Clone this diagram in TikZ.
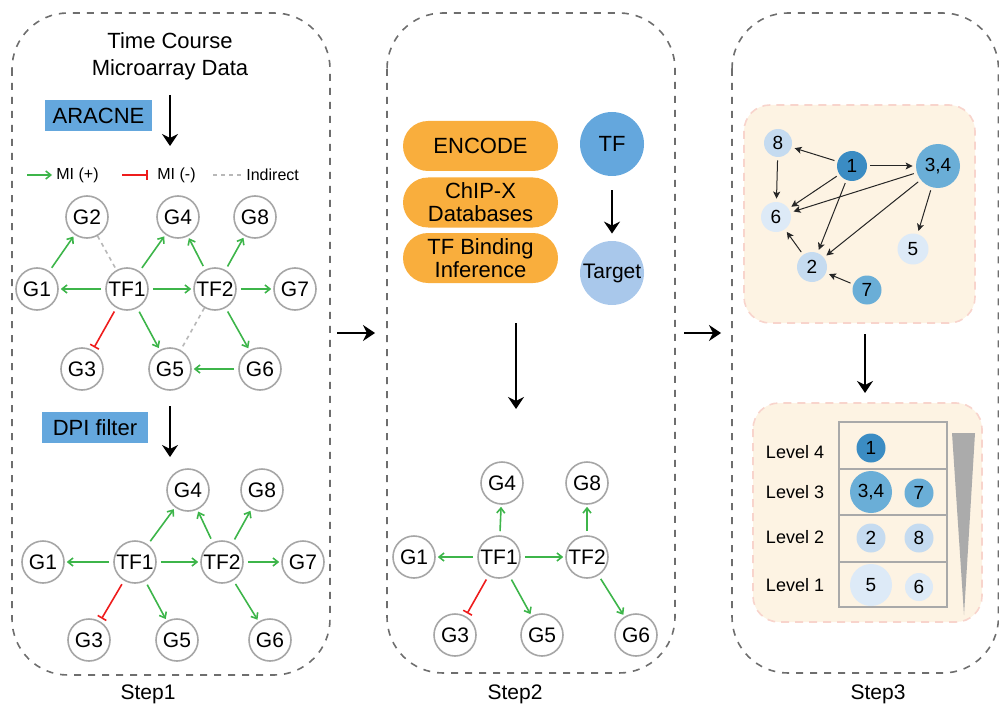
\documentclass[tikz,border=0pt]{standalone}
\usepackage{fontspec}
\setmainfont{Liberation Sans}
\usetikzlibrary{arrows.meta}

\definecolor{panelgray}{HTML}{6E6E6E}
\definecolor{nodegray}{HTML}{A6A6A6}
\definecolor{posgreen}{HTML}{3DB54A}
\definecolor{negred}{HTML}{EE1C1C}
\definecolor{boxblue}{HTML}{64A7DD}
\definecolor{pillorange}{HTML}{F9AE3D}
\definecolor{targetblue}{HTML}{A9C8EB}
\definecolor{peach}{HTML}{FDF3E3}
\definecolor{peachline}{HTML}{F8D4CC}
\definecolor{lvA}{HTML}{3B8CC3}
\definecolor{lvB}{HTML}{6AAED7}
\definecolor{lvC}{HTML}{C5DBF0}
\definecolor{lvD}{HTML}{DDEAF7}
\definecolor{tablegray}{HTML}{A9A9A9}
\definecolor{wedge}{HTML}{ABABAB}

\tikzset{
  panel/.style={draw=panelgray, line width=0.8pt, dash pattern=on 3.5pt off 3.5pt, rounded corners=28pt},
  gene/.style={circle, draw=nodegray, line width=0.8pt, fill=white, minimum size=21pt, inner sep=0pt, font=\fontsize{10.5}{12}\selectfont},
  posarrow/.style={draw=posgreen, line width=0.8pt, -{Straight Barb[length=2.5pt,width=4pt]}, shorten <=2pt, shorten >=1pt},
  negarrow/.style={draw=negred, line width=0.8pt, -{Bar[width=5pt,line width=0.8pt]}, shorten <=2pt, shorten >=1.5pt},
  indirect/.style={draw=nodegray!80, line width=0.8pt, dash pattern=on 2pt off 2pt},
  flow/.style={draw=black, line width=0.9pt, -{Stealth[length=6pt,width=8pt,inset=2pt]}},
  tagbox/.style={fill=boxblue, inner sep=0pt, minimum height=15.5pt, font=\fontsize{11}{13}\selectfont},
  pill/.style={fill=pillorange, rounded corners=12.5pt, minimum width=77.5pt, minimum height=25pt, inner sep=0pt, align=center, font=\fontsize{11}{11.5}\selectfont},
  big/.style={circle, inner sep=0pt, minimum size=32pt, font=\fontsize{10.5}{12}\selectfont},
  rank/.style={circle, inner sep=0pt, font=\fontsize{9.5}{11}\selectfont},
  rel/.style={draw=black!85, line width=0.5pt, -{Stealth[length=3.5pt,width=3.5pt,inset=0.8pt]}, shorten <=1.5pt, shorten >=1.5pt},
  lbl/.style={font=\fontsize{10.5}{12.5}\selectfont},
  legendtxt/.style={anchor=west, inner sep=0pt, font=\fontsize{8}{10}\selectfont},
  levtxt/.style={font=\fontsize{9}{11}\selectfont},
  softbox/.style={fill=peach, draw=peachline, line width=0.8pt, dash pattern=on 4pt off 3pt, rounded corners=13pt}
}

\begin{document}
\begin{tikzpicture}[x=0.5pt, y=-0.5pt]
\useasboundingbox (0,0) rectangle (999,711);

% ---------- the three dashed panels ----------
\draw[panel] (12,13) rectangle (330,675);
\draw[panel] (387,13) rectangle (675,673);
\draw[panel] (732,13) rectangle (998.5,673);

\node[lbl] (s1) at (148,694) {Step1};
\node[lbl] (s2) at (515,694) {Step2};
\node[lbl] (s3) at (878,694) {Step3};

% arrows between panels
\coordinate (p1a) at (337,333); \coordinate (p1b) at (375,333);
\coordinate (p2a) at (684,333); \coordinate (p2b) at (721,333);
\draw[flow] (p1a) -- (p1b);
\draw[flow] (p2a) -- (p2b);

% ---------- Step 1 ----------
\node[lbl, align=center, font=\fontsize{11}{13.5}\selectfont] (data) at (170,56) {Time Course\\Microarray Data};
\coordinate (f1a) at (170,95); \coordinate (f1b) at (170,146);
\draw[flow] (f1a) -- (f1b);
\node[tagbox, minimum width=53.5pt] (aracne) at (98.5,115.5) {ARACNE};

% legend
\coordinate (lg1a) at (27,175); \coordinate (lg1b) at (52,175);
\draw[posarrow, shorten <=0pt, shorten >=0pt] (lg1a) -- (lg1b);
\node[legendtxt] (lgpos) at (56,175) {MI (+)};
\coordinate (lg2a) at (122,175); \coordinate (lg2b) at (148,175);
\draw[negarrow, shorten <=0pt, shorten >=0pt] (lg2a) -- (lg2b);
\node[legendtxt] (lgneg) at (157,175) {MI (-)};
\coordinate (lg3a) at (213,175); \coordinate (lg3b) at (242,175);
\draw[indirect] (lg3a) -- (lg3b);
\node[legendtxt] (lgind) at (246,175) {Indirect};

% network inferred by ARACNE
\node[gene] (a2) at (87,217) {G2};
\node[gene] (a4) at (178,217) {G4};
\node[gene] (a8) at (255,217) {G8};
\node[gene] (a1) at (37,289) {G1};
\node[gene] (at1) at (127,289) {TF1};
\node[gene] (at2) at (215,289) {TF2};
\node[gene] (a7) at (295,289) {G7};
\node[gene] (a3) at (82,369) {G3};
\node[gene] (a5) at (170,369) {G5};
\node[gene] (a6) at (260,369) {G6};

\draw[posarrow] (a1) -- (a2);
\draw[indirect] (a2) -- (at1);
\draw[posarrow] (at1) -- (a1);
\draw[posarrow] (at1) -- (a4);
\draw[posarrow] (at1) -- (at2);
\draw[posarrow] (at1) -- (a5);
\draw[negarrow] (at1) -- (a3);
\draw[posarrow] (at2) -- (a4);
\draw[posarrow] (at2) -- (a8);
\draw[posarrow] (at2) -- (a7);
\draw[posarrow] (at2) -- (a6);
\draw[indirect] (at2) -- (a5);
\draw[posarrow] (a6) -- (a5);

\coordinate (f2a) at (170,406); \coordinate (f2b) at (170,457);
\draw[flow] (f2a) -- (f2b);
\node[tagbox, minimum width=53pt] (dpi) at (95,427.5) {DPI filter};

% network after DPI filtering
\node[gene] (b4) at (188,490) {G4};
\node[gene] (b8) at (262,490) {G8};
\node[gene] (b1) at (43,562) {G1};
\node[gene] (bt1) at (135,562) {TF1};
\node[gene] (bt2) at (222,562) {TF2};
\node[gene] (b7) at (303,562) {G7};
\node[gene] (b3) at (89,640) {G3};
\node[gene] (b5) at (177,640) {G5};
\node[gene] (b6) at (270,640) {G6};

\draw[posarrow] (bt1) -- (b1);
\draw[posarrow] (bt1) -- (b4);
\draw[posarrow] (bt1) -- (bt2);
\draw[posarrow] (bt1) -- (b5);
\draw[negarrow] (bt1) -- (b3);
\draw[posarrow] (bt2) -- (b4);
\draw[posarrow] (bt2) -- (b8);
\draw[posarrow] (bt2) -- (b7);
\draw[posarrow] (bt2) -- (b6);

% ---------- Step 2 ----------
\node[pill] (encode) at (480.5,146) {ENCODE};
\node[pill] (chip) at (480.5,202.5) {ChIP-X\\Databases};
\node[pill] (tfbind) at (480.5,258) {TF Binding\\Inference};

\node[big, fill=boxblue, font=\fontsize{11}{12}\selectfont] (tf) at (612,144) {TF};
\node[big, fill=targetblue] (target) at (612,273) {Target};
\draw[flow, shorten <=7pt, shorten >=3.5pt] (tf) -- (target);

\coordinate (f3a) at (516,323); \coordinate (f3b) at (516,409);
\draw[flow] (f3a) -- (f3b);

\node[gene] (c4) at (502,483) {G4};
\node[gene] (c8) at (587,483) {G8};
\node[gene] (c1) at (414,557) {G1};
\node[gene] (ct1) at (499,557) {TF1};
\node[gene] (ct2) at (587,557) {TF2};
\node[gene] (c3) at (455,635) {G3};
\node[gene] (c5) at (542,635) {G5};
\node[gene] (c6) at (636,635) {G6};

\draw[posarrow] (ct1) -- (c4);
\draw[posarrow] (ct1) -- (c1);
\draw[posarrow] (ct1) -- (ct2);
\draw[negarrow] (ct1) -- (c3);
\draw[posarrow] (ct1) -- (c5);
\draw[posarrow] (ct2) -- (c8);
\draw[posarrow] (ct2) -- (c6);

% ---------- Step 3 ----------
\draw[softbox] (744,105) rectangle (975,323);

\node[rank, fill=lvC, minimum size=14pt] (n8) at (778,143) {8};
\node[rank, fill=lvA, minimum size=15pt] (n1) at (852,166) {1};
\node[rank, fill=lvB, minimum size=22pt] (n34) at (938,166) {3,4};
\node[rank, fill=lvD, minimum size=15pt] (n6) at (776,217) {6};
\node[rank, fill=lvD, minimum size=15.5pt] (n5) at (913,249) {5};
\node[rank, fill=lvC, minimum size=15pt] (n2) at (812,267) {2};
\node[rank, fill=lvB, minimum size=14.5pt] (n7) at (867,290) {7};

\draw[rel] (n1) -- (n8);
\draw[rel] (n1) -- (n34);
\draw[rel] (n1) -- (n6);
\draw[rel] (n1) -- (n2);
\draw[rel] (n8) -- (n6);
\draw[rel] (n34) -- (n6);
\draw[rel] (n34) -- (n2);
\draw[rel] (n34) -- (n5);
\draw[rel] (n2) -- (n6);
\draw[rel] (n7) -- (n2);

\coordinate (f4a) at (865,334); \coordinate (f4b) at (865,393);
\draw[flow] (f4a) -- (f4b);

\draw[softbox] (753,403) rectangle (982,622);

% level table
\draw[tablegray, line width=0.6pt] (839,422) rectangle (947,607);
\draw[tablegray, line width=0.6pt] (839,469) -- (947,469);
\draw[tablegray, line width=0.6pt] (839,515) -- (947,515);
\draw[tablegray, line width=0.6pt] (839,562) -- (947,562);

\node[levtxt] (lv4) at (795,452) {Level 4};
\node[levtxt] (lv3) at (795,492) {Level 3};
\node[levtxt] (lv2) at (795,537) {Level 2};
\node[levtxt] (lv1) at (795,585) {Level 1};

\node[rank, fill=lvA, minimum size=14.5pt] (r1) at (871,448) {1};
\node[rank, fill=lvB, minimum size=21pt] (r34) at (871,492) {3,4};
\node[rank, fill=lvB, minimum size=14.5pt] (r7) at (919,493) {7};
\node[rank, fill=lvC, minimum size=14.5pt] (r2) at (871,538) {2};
\node[rank, fill=lvC, minimum size=14.5pt] (r8) at (919,538) {8};
\node[rank, fill=lvD, minimum size=21pt] (r5) at (871,585) {5};
\node[rank, fill=lvD, minimum size=14pt] (r6) at (919,587) {6};

% tapering wedge beside the levels
\fill[wedge] (952,433) -- (975,433) -- (964,615) -- cycle;

\end{tikzpicture}
\end{document}
